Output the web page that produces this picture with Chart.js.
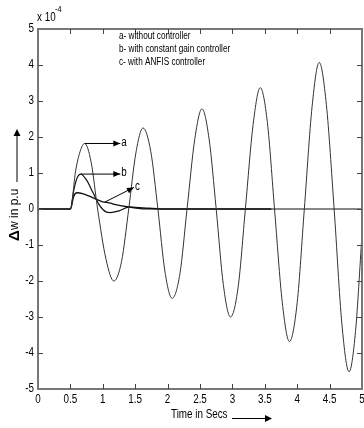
<!DOCTYPE html>
<html>
<head>
<meta charset="utf-8">
<script src="https://cdn.jsdelivr.net/npm/chart.js@4.4.0/dist/chart.umd.min.js"></script>
<style>
  body { margin: 0; background: #fff; }
  canvas { display: block; }
</style>
</head>
<body>
<canvas id="chart" width="364" height="428"></canvas>
<script>
// values, y in units of 1e-4 p.u.
const timeA = [0, 0.5, 0.58, 0.65, 0.72, 0.82, 0.92, 1.05, 1.17, 1.29, 1.4, 1.51, 1.62, 1.74, 1.85, 1.96, 2.07, 2.19, 2.3,
  2.42, 2.53, 2.64, 2.75, 2.86, 2.97, 3.09, 3.2, 3.32, 3.43, 3.54, 3.65, 3.77, 3.88, 4.0, 4.11, 4.23, 4.34, 4.45, 4.57,
  4.69, 4.8, 4.9, 5.0];
const withoutCtrl = [0, 0, 1.05, 1.6, 1.82, 1.3, 0, -1.4, -2.0, -1.45, 0, 1.55, 2.25, 1.6, 0, -1.75, -2.48, -1.8, 0,
  1.95, 2.78, 1.95, 0, -2.1, -3.0, -2.15, 0, 2.35, 3.37, 2.4, 0, -2.6, -3.68, -2.6, 0, 2.85, 4.07, 2.9, 0,
  -3.2, -4.52, -3.4, -0.7];

const timeB = [0, 0.5, 0.55, 0.6, 0.66, 0.75, 0.85, 0.95, 1.05, 1.12, 1.25, 1.4, 1.5, 1.65, 2.0, 3.6, 5.0];
const constGain = [0, 0, 0.5, 0.85, 0.97, 0.8, 0.45, 0.1, -0.08, -0.1, -0.05, 0.05, 0.03, 0, 0, 0, 0];

const timeC = [0, 0.5, 0.55, 0.6, 0.7, 0.8, 0.9, 1.0, 1.1, 1.2, 1.35, 1.5, 1.7, 2.0, 3.6];
const anfis = [0, 0, 0.35, 0.45, 0.42, 0.35, 0.27, 0.2, 0.17, 0.12, 0.07, 0.04, 0.02, 0, 0];

const xTicks = [0, 0.5, 1, 1.5, 2, 2.5, 3, 3.5, 4, 4.5, 5];
const yTicks = [-5, -4, -3, -2, -1, 0, 1, 2, 3, 4, 5];

const legendLines = ["a- without controller", "b- with constant gain controller", "c- with ANFIS controller"];
// annotation arrows: [from x, from y, to x, to y, letter]
const arrows = [
  [0.72, 1.82, 1.27, 1.82, "a"],
  [0.66, 0.97, 1.27, 0.97, "b"],
  [1.03, 0.19, 1.48, 0.6, "c"]
];

const FONT = '"Liberation Sans", Arial, sans-serif';
const NARROW = 0.82; // squeeze to look like the narrow face in the picture

const pts = (xs, ys) => xs.map((t, i) => ({ x: t, y: ys[i] }));

function ntext(ctx, s, x, y, size, align, bold, sx) {
  ctx.save();
  ctx.font = (bold ? "bold " : "") + size + "px " + FONT;
  ctx.translate(x, y);
  ctx.scale(sx || NARROW, 1);
  ctx.textAlign = align || "left";
  ctx.textBaseline = "middle";
  ctx.fillText(s, 0, 0);
  ctx.restore();
}

function arrowHead(ctx, x1, y1, x2, y2, len, w) {
  const ang = Math.atan2(y2 - y1, x2 - x1);
  ctx.beginPath();
  ctx.moveTo(x2, y2);
  ctx.lineTo(x2 - len * Math.cos(ang) + w * Math.sin(ang), y2 - len * Math.sin(ang) - w * Math.cos(ang));
  ctx.lineTo(x2 - len * Math.cos(ang) - w * Math.sin(ang), y2 - len * Math.sin(ang) + w * Math.cos(ang));
  ctx.closePath();
  ctx.fill();
}

const decor = {
  id: "decor",
  afterDraw(chart) {
    const { ctx, chartArea: a } = chart;
    const x = chart.scales.x, y = chart.scales.y;
    ctx.save();

    // box
    ctx.strokeStyle = "#777";
    ctx.lineWidth = 2;
    ctx.strokeRect(a.left, a.top, a.right - a.left, a.bottom - a.top);

    // inward ticks on all four sides
    ctx.lineWidth = 1;
    ctx.strokeStyle = "#444";
    ctx.beginPath();
    xTicks.slice(1, -1).forEach(v => {
      const px = Math.round(x.getPixelForValue(v)) + 0.5;
      ctx.moveTo(px, a.bottom); ctx.lineTo(px, a.bottom - 5);
      ctx.moveTo(px, a.top); ctx.lineTo(px, a.top + 5);
    });
    yTicks.slice(1, -1).forEach(v => {
      const py = Math.round(y.getPixelForValue(v)) + 0.5;
      ctx.moveTo(a.left, py); ctx.lineTo(a.left + 5, py);
      ctx.moveTo(a.right, py); ctx.lineTo(a.right - 5, py);
    });
    ctx.stroke();

    ctx.fillStyle = "#000";

    // tick labels
    xTicks.forEach(v => ntext(ctx, String(v), x.getPixelForValue(v), a.bottom + 11, 12, "center"));
    yTicks.forEach(v => ntext(ctx, String(v), a.left - 4, y.getPixelForValue(v), 12, "right"));

    // exponent
    ntext(ctx, "x 10", 37, 18, 12);
    ntext(ctx, "-4", 55, 10, 9);

    // legend text
    legendLines.forEach((s, i) => ntext(ctx, s, 119, 36 + i * 13, 10));

    // annotation arrows
    ctx.strokeStyle = "#000";
    ctx.lineWidth = 1;
    arrows.forEach(([x1, y1, x2, y2, s]) => {
      const p1x = x.getPixelForValue(x1), p1y = y.getPixelForValue(y1);
      const p2x = x.getPixelForValue(x2), p2y = y.getPixelForValue(y2);
      ctx.beginPath();
      ctx.moveTo(p1x, p1y); ctx.lineTo(p2x, p2y);
      ctx.stroke();
      arrowHead(ctx, p1x, p1y, p2x, p2y, 7, 3);
      ntext(ctx, s, p2x + 1, p2y - 1, 12);
    });

    // x axis title
    ntext(ctx, "Time in Secs", 171, 415, 12);
    ctx.beginPath();
    ctx.moveTo(232, 418.5); ctx.lineTo(266, 418.5);
    ctx.stroke();
    arrowHead(ctx, 232, 418.5, 272, 418.5, 7, 3.5);

    // y axis title, rotated
    ctx.translate(15, 0);
    ctx.rotate(-Math.PI / 2);
    ntext(ctx, "\u0394", -241, 0, 15, "left", true, 1);
    ntext(ctx, "w in p.u", -230, 0, 12, "left", false, 1);
    ctx.beginPath();
    ctx.moveTo(-182, 2); ctx.lineTo(-136, 2);
    ctx.stroke();
    arrowHead(ctx, -182, 2, -129, 2, 7, 3.5);

    ctx.restore();
  }
};

new Chart(document.getElementById("chart"), {
  type: "line",
  data: {
    datasets: [
      { label: "a", data: pts(timeA, withoutCtrl), borderColor: "#333", borderWidth: 1, cubicInterpolationMode: "monotone" },
      { label: "b", data: pts(timeB, constGain), borderColor: "#111", borderWidth: 1.2, cubicInterpolationMode: "monotone" },
      { label: "c", data: pts(timeC, anfis), borderColor: "#111", borderWidth: 1.4, cubicInterpolationMode: "monotone" }
    ]
  },
  options: {
    responsive: false,
    animation: false,
    elements: { point: { radius: 0 } },
    layout: { padding: { top: 29, right: 2, left: 0, bottom: 0 } },
    plugins: { legend: { display: false }, tooltip: { enabled: false } },
    scales: {
      x: {
        type: "linear", min: 0, max: 5,
        afterBuildTicks: s => { s.ticks = xTicks.map(v => ({ value: v })); },
        afterFit: s => { s.height = 39; s.paddingLeft = 0; s.paddingRight = 0; },
        grid: { display: false, drawTicks: false },
        border: { display: false },
        ticks: { display: false }
      },
      y: {
        type: "linear", min: -5, max: 5,
        afterBuildTicks: s => { s.ticks = yTicks.map(v => ({ value: v })); },
        afterFit: s => { s.width = 38; s.paddingTop = 0; s.paddingBottom = 0; },
        grid: { display: false, drawTicks: false },
        border: { display: false },
        ticks: { display: false }
      }
    }
  },
  plugins: [decor]
});
</script>
</body>
</html>
